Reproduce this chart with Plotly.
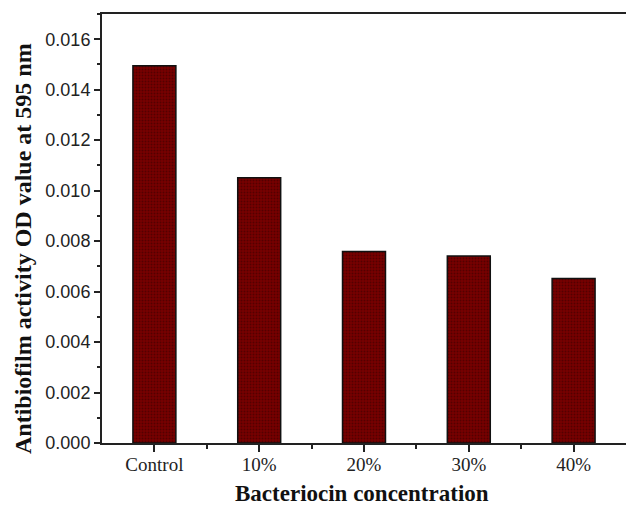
import plotly.graph_objects as go

categories = ["Control", "10%", "20%", "30%", "40%"]
od_values = [0.01495, 0.01051, 0.00759, 0.00741, 0.00652]
y_ticks = [0.000, 0.002, 0.004, 0.006, 0.008, 0.010, 0.012, 0.014, 0.016]
y_tick_labels = ["%.3f" % v for v in y_ticks]

xpos = list(range(len(categories)))

fig = go.Figure()
fig.add_trace(go.Bar(
    x=xpos, y=od_values, width=0.41,
    marker=dict(
        color="#700000",
        line=dict(color="#111111", width=1.5),
        pattern=dict(shape=".", size=3, solidity=0.35, fgcolor="#2e0000", bgcolor="#780000"),
    ),
    showlegend=False,
))

fig.update_layout(
    width=626, height=505,
    margin=dict(l=102, r=0, t=14, b=62),
    plot_bgcolor="white", paper_bgcolor="white",
    bargap=0.5,
    xaxis=dict(
        range=[-0.5, 4.5], tickmode="array", tickvals=xpos, ticktext=categories,
        showline=True, linecolor="#222", linewidth=2, mirror=True,
        ticks="outside", ticklen=7, tickwidth=1.5, tickcolor="#222",
        ticklabelstandoff=-4,
        tickfont=dict(family="Liberation Serif, Times New Roman, serif", size=19, color="#222"),
        showgrid=False, zeroline=False,
        minor=dict(tickmode="array", tickvals=[0.5, 1.5, 2.5, 3.5], ticks="outside", ticklen=4, tickwidth=1.5, tickcolor="#222"),
    ),
    yaxis=dict(
        range=[0, 0.017], tickmode="array", tickvals=y_ticks, ticktext=y_tick_labels,
        showline=True, linecolor="#222", linewidth=2,
        ticks="outside", ticklen=6, tickwidth=1.5, tickcolor="#222",
        tickfont=dict(family="Liberation Sans, Arial, sans-serif", size=18, color="#222"),
        showgrid=False, zeroline=False,
        minor=dict(dtick=0.001, ticks="outside", ticklen=3, tickwidth=1.5, tickcolor="#222"),
    ),
    annotations=[
        dict(text="<b>Bacteriocin concentration</b>", xref="paper", yref="paper",
             x=(362 - 102) / 524, y=-(493 - 443) / 429, xanchor="center", yanchor="middle",
             showarrow=False, font=dict(family="Liberation Serif, Times New Roman, serif", size=23, color="#111")),
        dict(text="<b>Antibiofilm activity OD value at 595 nm</b>", xref="paper", yref="paper",
             x=-(102 - 23) / 524, y=(443 - 249) / 429, xanchor="center", yanchor="middle", textangle=-90,
             showarrow=False, font=dict(family="Liberation Serif, Times New Roman, serif", size=24, color="#111")),
    ],
)

fig.write_html(
    "out.html",
    config={"displayModeBar": False},
    post_script="document.body.style.margin='0';document.body.style.padding='0';document.body.style.overflow='hidden';",
)
